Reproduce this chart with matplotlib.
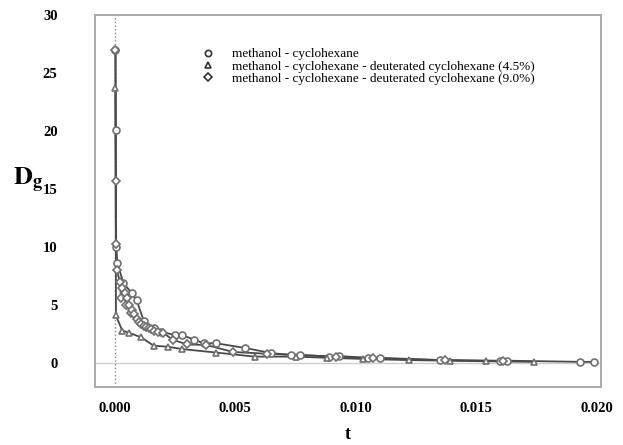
"""Relaxation curves D_g(t) for methanol - cyclohexane mixtures."""
import matplotlib

matplotlib.use("Agg")
import matplotlib.pyplot as plt

plt.rcParams["font.family"] = ["Liberation Serif", "DejaVu Serif"]
plt.rcParams["mathtext.fontset"] = "stix"

# methanol - cyclohexane
t_pure = [0.00002, 0.00003, 0.00005, 0.0001, 0.00035, 0.0007, 0.0009, 0.0012, 0.0016,
          0.0019, 0.0025, 0.0028, 0.0033, 0.0037, 0.0042, 0.0054, 0.0065, 0.0073, 0.0077,
          0.0089, 0.0093, 0.0105, 0.0110, 0.0135, 0.0160, 0.0163, 0.0193, 0.0199]
d_pure = [27.0, 20.1, 10.0, 8.6, 6.9, 6.0, 5.4, 3.6, 3.0,
          2.7, 2.4, 2.4, 2.0, 1.7, 1.7, 1.3, 0.85, 0.7, 0.7,
          0.55, 0.6, 0.45, 0.45, 0.25, 0.2, 0.2, 0.1, 0.1]

# deuterated cyclohexane 4.5%
t_d45 = [0.00002, 0.00004, 0.0003, 0.0006, 0.0011, 0.0016, 0.0022, 0.0028, 0.0042,
         0.0058, 0.0075, 0.0088, 0.0103, 0.0122, 0.0139, 0.0154, 0.0174]
d_d45 = [23.7, 4.1, 2.8, 2.6, 2.2, 1.5, 1.4, 1.2, 0.9,
         0.55, 0.55, 0.45, 0.35, 0.25, 0.2, 0.15, 0.1]

# deuterated cyclohexane 9.0%
t_d90 = [0.00002, 0.00003, 0.00004, 0.00008, 0.0002, 0.00025, 0.0003, 0.0004, 0.00045,
         0.0005, 0.0006, 0.00065, 0.0007, 0.0008, 0.0009, 0.001, 0.0011, 0.0012, 0.0013,
         0.0014, 0.0015, 0.0016, 0.0018, 0.002, 0.0024, 0.003, 0.0038, 0.0049, 0.0063,
         0.0092, 0.0107, 0.0137, 0.0161]
d_d90 = [27.0, 15.7, 10.3, 8.0, 7.0, 5.6, 6.5, 6.0, 5.0,
         5.6, 5.0, 4.3, 4.6, 4.2, 3.8, 3.5, 3.4, 3.2, 3.1,
         3.0, 2.9, 2.8, 2.7, 2.6, 2.0, 1.6, 1.55, 0.95, 0.8,
         0.55, 0.4, 0.25, 0.15]

labels = [
    "methanol - cyclohexane",
    "methanol - cyclohexane - deuterated cyclohexane (4.5%)",
    "methanol - cyclohexane - deuterated cyclohexane (9.0%)",
]
markers = ["o", "^", "D"]
msizes = [5, 4.5, 4]

fig = plt.figure(figsize=(6.23, 4.45), dpi=100)
ax = fig.add_axes([0.1525, 0.1303, 0.8115, 0.836])

ax.axvline(0, color="#888888", linestyle=":", linewidth=1.0, zorder=1)
ax.axhline(0, color="#cccccc", linewidth=1.0, zorder=1)

for t, d, mk, ms, lab in zip([t_pure, t_d45, t_d90], [d_pure, d_d45, d_d90],
                             markers, msizes, labels):
    ax.plot(t, d, color="#4a4a4a", linewidth=1.3, zorder=2)
    ax.plot(t, d, linestyle="none", marker=mk, markersize=ms, markerfacecolor="white",
            markeredgecolor="#707070", markeredgewidth=1.2, zorder=3, label=lab)

ax.set_xlim(-0.00083, 0.02017)
ax.set_ylim(-2.07, 30)
ax.set_xticks([0.0, 0.005, 0.010, 0.015, 0.020])
ax.set_xticklabels(["0.000", "0.005", "0.010", "0.015", "0.020"])
ax.set_yticks([0, 5, 10, 15, 20, 25, 30])

for lbl in ax.get_xticklabels() + ax.get_yticklabels():
    lbl.set_fontweight("bold")
    lbl.set_fontsize(10.5)
ax.tick_params(axis="x", length=0, pad=11)
ax.tick_params(axis="y", length=0, pad=27)

for s in ax.spines.values():
    s.set_color("#aaaaaa")
    s.set_linewidth(1.4)

ax.set_xlabel("t", fontsize=13, fontweight="bold", labelpad=8)
ax.set_ylabel(r"$\mathbf{D_g}$", fontsize=19, rotation=0, va="center", ha="center")
ax.yaxis.set_label_coords(-0.133, 0.554)

leg = ax.legend(loc="upper left", bbox_to_anchor=(0.2, 0.925), frameon=False,
                fontsize=9.5, handlelength=1.0, handletextpad=1.3, labelspacing=0.0,
                borderaxespad=0)
for h in leg.legend_handles:
    h.set_markersize(4.5)
    h.set_markeredgecolor("#333333")

fig.savefig("out.png", dpi=100)
